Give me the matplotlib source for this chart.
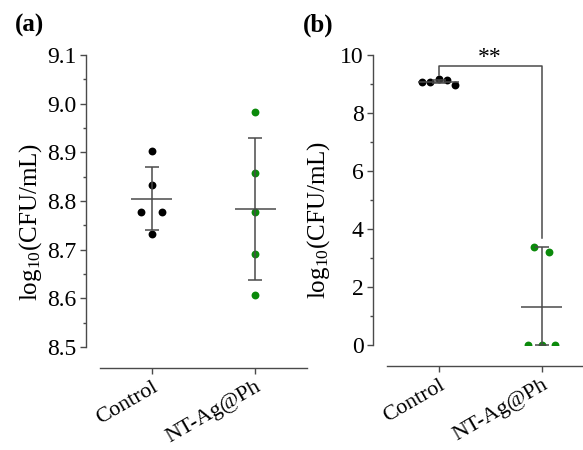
import matplotlib
matplotlib.use('Agg')
import matplotlib.pyplot as plt
from matplotlib.ticker import MultipleLocator

plt.rcParams['font.family'] = ['Liberation Serif', 'DejaVu Serif']
plt.rcParams['mathtext.default'] = 'regular'

groups = ['Control', 'NT-Ag@Ph']

# panel (a) values
a_control = [8.903, 8.833, 8.778, 8.778, 8.733]
a_ntag = [8.982, 8.857, 8.778, 8.692, 8.606]
a_means = [8.805, 8.783]
a_lo = [8.740, 8.637]
a_hi = [8.870, 8.929]

# panel (b) values
b_control = [9.08, 9.07, 9.16, 9.14, 8.97]
b_ntag = [3.37, 3.22, 0.0, 0.0, 0.0]
b_means = [9.08, 1.32]
b_lo = [9.03, 0.0]
b_hi = [9.14, 3.37]

# horizontal jitter of the dots (category units)
a_jit_control = [0, 0, -0.10, 0.10, 0]
a_jit_ntag = [0, 0, 0, 0, 0]
b_jit_control = [-0.16, -0.08, 0, 0.08, 0.16]
b_jit_ntag = [-0.07, 0.07, -0.135, 0, 0.135]

W, H = 583, 450
fig = plt.figure(figsize=(W / 100, H / 100), dpi=100)

ax_a = fig.add_axes([100 / W, 1 - 347 / H, 207 / W, 292 / H])
ax_b = fig.add_axes([387 / W, 1 - 345 / H, 206 / W, 290 / H])

green = '#0b8a0b'
lc = '#4a4a4a'


def draw(ax, ctrl, ntag, jc, jn, means, lo, hi):
    ax.scatter([0 + j for j in jc], ctrl, s=32, color='black', zorder=2, linewidths=0)
    ax.scatter([1 + j for j in jn], ntag, s=32, color=green, zorder=2, linewidths=0)
    for i in range(2):
        ax.errorbar(i, means[i], yerr=[[means[i] - lo[i]], [hi[i] - means[i]]],
                    fmt='none', ecolor=lc, elinewidth=1.1, capsize=5, capthick=1.1, zorder=3)
        ax.hlines(means[i], i - 0.2, i + 0.2, color=lc, lw=1.1, zorder=3)
    ax.set_xlim(-0.5, 1.5)
    ax.spines['top'].set_visible(False)
    ax.spines['right'].set_visible(False)
    ax.spines['left'].set_position(('outward', 10))
    ax.spines['bottom'].set_position(('outward', 15))
    for s in ['left', 'bottom']:
        ax.spines[s].set_color(lc)
        ax.spines[s].set_linewidth(1.0)
    ax.set_xticks([0, 1])
    ax.set_xticklabels(groups, rotation=30, ha='right', rotation_mode='anchor')
    ax.tick_params(axis='both', which='major', direction='out', length=4, width=1,
                   color=lc, labelsize=17, pad=3)
    ax.tick_params(axis='y', which='minor', direction='out', length=2.5, width=1, color=lc)
    ax.tick_params(axis='x', pad=3, labelsize=16)
    ax.set_ylabel('log$_{10}$(CFU/mL)', fontsize=18)


draw(ax_a, a_control, a_ntag, a_jit_control, a_jit_ntag, a_means, a_lo, a_hi)
ax_a.set_ylim(8.5, 9.1)
ax_a.yaxis.set_major_locator(MultipleLocator(0.1))
ax_a.yaxis.set_minor_locator(MultipleLocator(0.05))
ax_a.yaxis.set_major_formatter(matplotlib.ticker.FormatStrFormatter('%.1f'))
ax_a.yaxis.set_label_coords(-0.27, 0.43)

draw(ax_b, b_control, b_ntag, b_jit_control, b_jit_ntag, b_means, b_lo, b_hi)
ax_b.set_ylim(0, 10)
ax_b.yaxis.set_major_locator(MultipleLocator(2))
ax_b.yaxis.set_minor_locator(MultipleLocator(1))
ax_b.yaxis.set_label_coords(-0.265, 0.43)

# significance bracket
ax_b.plot([0, 0, 1, 1], [9.31, 9.63, 9.63, 3.69], color=lc, lw=1.1, clip_on=False, zorder=3)
ax_b.text(0.5, 9.55, '**', ha='center', va='bottom', fontsize=17)

fig.text(15 / W, 1 - 32 / H, '(a)', fontsize=18, fontweight='bold', va='baseline')
fig.text(303 / W, 1 - 32 / H, '(b)', fontsize=18, fontweight='bold', va='baseline')

fig.savefig('out.png', dpi=100)
